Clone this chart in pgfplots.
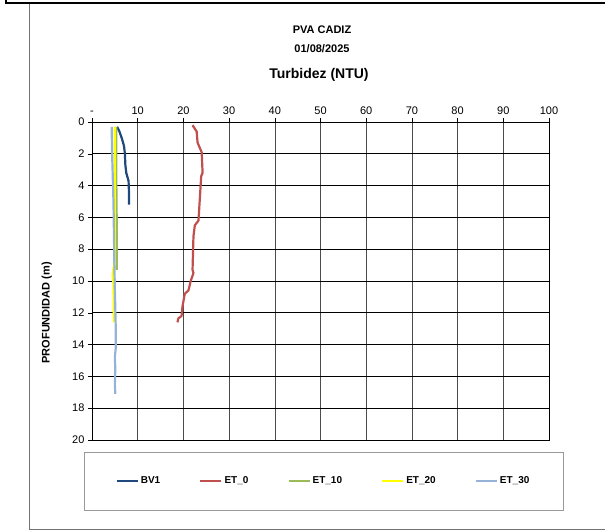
\documentclass[border=0pt]{standalone}
\usepackage{pgfplots}
\pgfplotsset{compat=1.18}
\usepackage{fontspec}
\setmainfont{Liberation Sans}
\definecolor{bvone}{HTML}{1F497D}
\definecolor{etzero}{HTML}{C0504D}
\definecolor{etten}{HTML}{9BBB59}
\definecolor{ettwenty}{HTML}{FFFF00}
\definecolor{etthirty}{HTML}{95B3D7}
\begin{document}
\begin{tikzpicture}[x=1pt,y=1pt]
\path[use as bounding box] (0,0) rectangle (605,531);
% outer frames
\draw[black, line width=2.5pt] (6,531) -- (6,528) -- (605,528);
\draw[black!55, line width=1pt] (29,527) -- (29,1.5) -- (605,1.5);
% titles
\node[font=\bfseries\fontsize{11}{13}\selectfont] at (322,501) {PVA CADIZ};
\node[font=\bfseries\fontsize{11}{13}\selectfont] at (322,482) {01/08/2025};
\node[font=\bfseries\fontsize{14}{16}\selectfont] at (319,456) {Turbidez (NTU)};
% legend box
\draw[black!40, line width=0.8pt] (84,79) rectangle (563,21);
\begin{axis}[
  at={(92pt,91pt)}, anchor=south west,
  width=457pt, height=318pt, scale only axis,
  xmin=0, xmax=100, ymin=0, ymax=20,
  y dir=reverse,
  xtick={0,10,20,30,40,50,60,70,80,90,100},
  xticklabels={-,10,20,30,40,50,60,70,80,90,100},
  xtick pos=upper, xticklabel pos=upper,
  ytick={0,2,6,10,14,18,20},
  extra y ticks={4,8,12,16},
  extra y tick style={major grid style={black!15, line width=1.4pt}},
  ytick pos=left,
  tick align=outside,
  major tick length=4pt,
  xmajorgrids, ymajorgrids,
  x grid style={black!70, line width=0.6pt},
  major y grid style={black, line width=0.7pt},
  axis line style={black, line width=0.8pt},
  tick style={black, line width=0.6pt},
  tick label style={font=\fontsize{11}{13}\selectfont},
  /pgf/number format/assume math mode=true,
  ylabel={PROFUNDIDAD (m)},
  ylabel style={font=\bfseries\fontsize{11}{13}\selectfont, at={(axis description cs:-0.099,0.4)}, anchor=center},
  legend columns=5,
  legend style={at={(axis description cs:0.5066,-0.129)}, anchor=center, draw=none, fill=none,
    font=\bfseries\fontsize{10}{12}\selectfont,
    /tikz/every even column/.append style={column sep=37pt}},
  legend image code/.code={\draw[#1] (0pt,0pt) -- (21pt,0pt);},
  every axis plot/.append style={line width=2.2pt, line join=round},
]
\addplot[bvone] coordinates {
 (5.5,0.3) (6.0,0.6) (6.5,1.0) (7.0,1.5) (7.2,2.0) (7.3,2.7)
 (7.5,3.2) (8.0,3.7) (8.1,4.5) (8.1,5.2)
};
\addlegendentry{BV1}
\addplot[etzero] coordinates {
 (22.0,0.2) (22.9,0.6) (23.1,1.3) (24.0,1.9) (24.2,3.2) (23.9,3.4)
 (23.6,4.8) (23.3,6.2) (22.5,6.5) (22.2,7.2) (22.0,9.3) (22.2,9.5)
 (21.6,10.0) (21.1,10.6) (20.3,10.8) (19.8,11.6) (19.6,12.2)
 (18.9,12.35) (18.7,12.6)
};
\addlegendentry{ET\_0}
\addplot[etten] coordinates {
 (5.3,0.3) (5.3,3.0) (5.4,6.0) (5.4,9.3)
};
\addlegendentry{ET\_10}
\addplot[ettwenty] coordinates {
 (5.0,0.3) (5.0,4.0) (5.0,8.0) (4.8,9.0) (4.5,9.6) (4.7,10.2) (4.8,12.6)
};
\addlegendentry{ET\_20}
\addplot[etthirty] coordinates {
 (4.3,0.3) (4.4,2.0) (4.5,3.0) (4.7,5.0) (4.8,7.0) (4.9,9.0)
 (5.0,10.5) (5.2,13.0) (5.2,14.2) (5.0,14.8) (5.1,15.5) (5.0,16.5) (5.1,17.1)
};
\addlegendentry{ET\_30}
\end{axis}
\end{tikzpicture}
\end{document}
